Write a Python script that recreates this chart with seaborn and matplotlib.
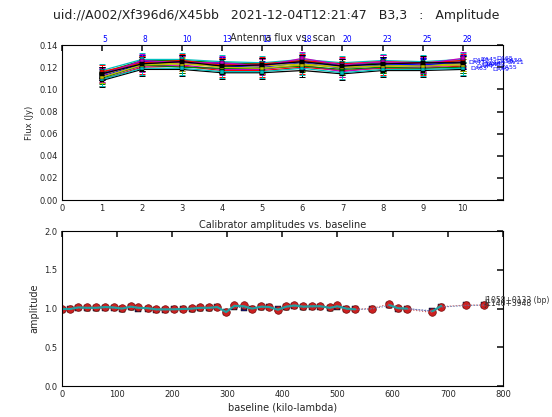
import numpy as np
import pandas as pd
import matplotlib
matplotlib.use("Agg")
import matplotlib.pyplot as plt
import seaborn as sns

# ---- top panel: antenna flux vs scan ----
scan_index = [1, 2, 3, 4, 5, 6, 7, 8, 9, 10]
scan_numbers = ["5", "8", "10", "13", "15", "18", "20", "23", "25", "28"]

flux = {
    "DA41": [0.112, 0.123, 0.124, 0.121, 0.120, 0.124, 0.119, 0.122, 0.121, 0.124],
    "DA42": [0.115, 0.126, 0.126, 0.124, 0.123, 0.126, 0.122, 0.124, 0.123, 0.126],
    "DA44": [0.109, 0.120, 0.121, 0.117, 0.117, 0.120, 0.117, 0.119, 0.119, 0.121],
    "DA45": [0.117, 0.127, 0.127, 0.125, 0.124, 0.127, 0.124, 0.126, 0.125, 0.127],
    "DA46": [0.111, 0.121, 0.122, 0.118, 0.118, 0.122, 0.116, 0.120, 0.120, 0.122],
    "DA48": [0.113, 0.124, 0.123, 0.122, 0.121, 0.123, 0.120, 0.121, 0.122, 0.123],
    "DA49": [0.108, 0.118, 0.118, 0.115, 0.115, 0.117, 0.114, 0.117, 0.117, 0.118],
    "DA51": [0.114, 0.125, 0.125, 0.123, 0.122, 0.125, 0.121, 0.123, 0.122, 0.125],
    "DA55": [0.110, 0.122, 0.120, 0.119, 0.119, 0.121, 0.118, 0.120, 0.119, 0.120],
    "DA59": [0.116, 0.124, 0.126, 0.122, 0.123, 0.126, 0.123, 0.125, 0.124, 0.126],
    "DA63": [0.109, 0.119, 0.119, 0.116, 0.116, 0.119, 0.115, 0.118, 0.118, 0.119],
    "DA65": [0.113, 0.126, 0.124, 0.124, 0.121, 0.128, 0.122, 0.125, 0.123, 0.128],
    "DV03": [0.111, 0.122, 0.123, 0.120, 0.119, 0.122, 0.120, 0.121, 0.121, 0.122],
    "DV11": [0.114, 0.123, 0.125, 0.121, 0.122, 0.125, 0.121, 0.123, 0.124, 0.124],
}
flux_err = [0.006, 0.005, 0.006, 0.006, 0.005, 0.006, 0.006, 0.006, 0.005, 0.006, 0.006, 0.006, 0.005, 0.006]
label_x = [10.15, 10.25, 10.35, 10.45, 10.55, 10.65, 10.75, 10.85, 10.95, 11.05, 10.2, 10.85, 10.5, 11.1]

# ---- bottom panel: calibrator amplitude vs baseline ----
baseline = [1, 15, 30, 45, 62, 79, 94, 109, 125, 139, 156, 171, 188, 203, 220,
            236, 251, 267, 282, 298, 313, 330, 345, 362, 376, 392, 407, 422,
            438, 454, 469, 486, 500, 516, 532, 562, 594, 610, 626, 672, 688,
            734, 766]
amp_red = [1.00, 0.995, 1.02, 1.015, 1.015, 1.025, 1.02, 1.005, 1.035, 1.015,
           1.01, 0.99, 0.995, 0.995, 0.995, 1.005, 1.015, 1.015, 1.025, 0.95,
           1.045, 1.04, 0.995, 1.03, 1.025, 0.98, 1.03, 1.05, 1.03, 1.035,
           1.035, 1.015, 1.04, 1.0, 0.99, 1.0, 1.06, 1.005, 0.99, 0.95,
           1.025, 1.045, 1.045]
amp_blue = [0.985, 0.99, 1.01, 1.005, 1.01, 1.01, 1.005, 1.0, 1.02, 1.0,
            1.0, 0.985, 0.985, 0.99, 0.99, 0.995, 1.005, 1.005, 1.015, 0.96,
            1.025, 1.01, 1.0, 1.02, 1.015, 0.99, 1.02, 1.03, 1.02, 1.02,
            1.025, 1.005, 1.025, 0.995, 0.99, 0.995, 1.04, 1.0, 1.0, 0.97,
            1.02, 1.04, 1.045]
amp_model = [0.995, 0.995, 1.015, 1.01, 1.01, 1.02, 1.015, 1.0, 1.025, 1.01,
             1.005, 0.99, 0.99, 0.99, 0.995, 1.0, 1.01, 1.01, 1.02, 0.955,
             1.035, 1.03, 1.0, 1.025, 1.02, 0.985, 1.025, 1.04, 1.025, 1.03,
             1.03, 1.01, 1.03, 1.0, 0.99, np.nan, 1.045, 1.005, 1.0, 0.965,
             1.035, np.nan, np.nan]

sns.set_theme(style="white")
plt.rcParams["font.family"] = ["DejaVu Sans"]
plt.rcParams["xtick.direction"] = "in"
plt.rcParams["ytick.direction"] = "in"
plt.rcParams["xtick.top"] = True
plt.rcParams["ytick.right"] = True
plt.rcParams["xtick.major.size"] = 4
plt.rcParams["ytick.major.size"] = 4
plt.rcParams["axes.edgecolor"] = "black"
plt.rcParams["axes.linewidth"] = 0.8

fig = plt.figure(figsize=(5.52, 4.17), dpi=100)
ax1 = fig.add_axes([0.112, 0.52, 0.799, 0.372])
ax2 = fig.add_axes([0.112, 0.074, 0.799, 0.372])

fig.suptitle("uid://A002/Xf396d6/X45bb   2021-12-04T12:21:47   B3,3   :   Amplitude",
             fontsize=9, y=0.978, color="#222222")

colors = ["#0000ff", "#008000", "#ff0000", "#00bfbf", "#bf00bf", "#bfbf00", "#000000"]
rows = []
for name, vals in flux.items():
    for s, v in zip(scan_index, vals):
        rows.append({"antenna": name, "scan": s, "flux": v})
df = pd.DataFrame(rows)
names = list(flux.keys())
pal = {n: colors[i % len(colors)] for i, n in enumerate(names)}

for i, n in enumerate(names):
    ax1.errorbar(scan_index, flux[n], yerr=flux_err[i], fmt="none",
                 ecolor=pal[n], elinewidth=0.7, capsize=2, capthick=0.7)
sns.lineplot(data=df, x="scan", y="flux", hue="antenna", palette=pal,
             marker="s", markersize=2.5, markeredgewidth=0.3,
             markeredgecolor="black", linewidth=0.9,
             legend=False, ax=ax1)

for s, lab in zip(scan_index, scan_numbers):
    ax1.text(s, 0.1405, lab, color="blue", fontsize=5.5, ha="left", va="bottom")
for i, n in enumerate(names):
    ax1.text(label_x[i], flux[n][-1], n, color="blue", fontsize=4.5,
             ha="left", va="center", clip_on=False)

ax1.set_xlim(0, 11)
ax1.set_ylim(0, 0.14)
ax1.set_xticks(range(0, 11))
ax1.set_yticks(np.arange(0, 0.141, 0.02))
ax1.set_yticklabels([f"{v:.2f}" for v in np.arange(0, 0.141, 0.02)])
ax1.set_xlabel("")
ax1.set_ylabel("Flux (Jy)", fontsize=6)
ax1.set_title("Antenna flux vs. scan", fontsize=7, pad=3)
ax1.tick_params(labelsize=6, pad=3)

# bottom panel
bdf = pd.DataFrame({"baseline": baseline, "red": amp_red, "blue": amp_blue,
                    "model": amp_model})
ax2.plot(bdf["baseline"], bdf["red"], ":", color="r", linewidth=0.8)
ax2.plot(bdf["baseline"], bdf["blue"], ":", color="b", linewidth=0.8)
ax2.plot(bdf["baseline"], bdf["model"], ":", color="m", linewidth=0.8)
seg = np.cumsum(np.r_[0, np.diff(baseline) > 40])
for k in np.unique(seg):
    part = bdf[seg == k]
    ax2.plot(part["baseline"], part["model"], "-", color="#20a0a0", linewidth=1.5)
sns.scatterplot(data=bdf, x="baseline", y="blue", marker="s", color="#1a1a80",
                s=14, edgecolor="black", linewidth=0.3, ax=ax2)
sns.scatterplot(data=bdf, x="baseline", y="model", marker="^", color="#2a8a2a",
                s=14, edgecolor="black", linewidth=0.3, ax=ax2)
sns.scatterplot(data=bdf, x="baseline", y="red", marker="o", color="#cc2020",
                s=30, edgecolor="#7a1010", linewidth=0.5, ax=ax2)

ax2.text(766, 1.10, "J1058+0133 (bp)", fontsize=5.5, color="#333333",
         va="center", clip_on=False)
ax2.text(766, 1.07, "J1146+3948", fontsize=5.5, color="#333333",
         va="center", clip_on=False)

ax2.set_xlim(0, 800)
ax2.set_ylim(0, 2.0)
ax2.set_xticks(range(0, 801, 100))
ax2.set_yticks([0.0, 0.5, 1.0, 1.5, 2.0])
ax2.set_yticklabels(["0.0", "0.5", "1.0", "1.5", "2.0"])
ax2.set_xlabel("baseline (kilo-lambda)", fontsize=7, labelpad=2)
ax2.set_ylabel("amplitude", fontsize=7)
ax2.set_title("Calibrator amplitudes vs. baseline", fontsize=7, pad=2)
ax2.tick_params(labelsize=6, pad=3)

fig.savefig("out.png", dpi=100)
